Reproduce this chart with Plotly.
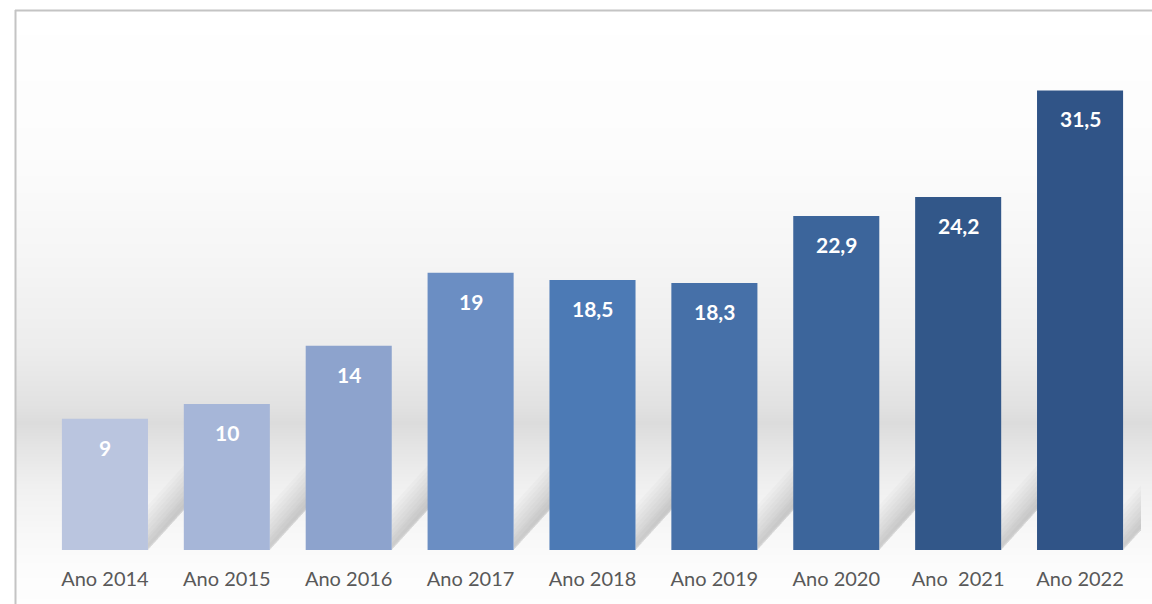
import base64, struct, zlib
import plotly.graph_objects as go

categories = ["Ano 2014", "Ano 2015", "Ano 2016", "Ano 2017", "Ano 2018",
              "Ano 2019", "Ano 2020", "Ano \u00a02021", "Ano 2022"]
values = [9, 10, 14, 19, 18.5, 18.3, 22.9, 24.2, 31.5]
value_labels = ["9", "10", "14", "19", "18,5", "18,3", "22,9", "24,2", "31,5"]
bar_colors = ["#bac5df", "#a6b6d8", "#8da3cd", "#6b8ec3", "#4c7ab5",
              "#4670a8", "#3c659b", "#325789", "#305487"]

W, H = 1152, 604
L, R, T, B = 44, 11, 54, 54
pw, ph = W - L - R, H - T - B
BARGAP = 0.294

# vertical background gradient as a tiny PNG (decoration only); y in page pixels
stops = [(11, 255), (150, 252), (250, 246), (350, 236), (400, 226), (418, 220),
         (440, 228), (480, 240), (530, 248), (560, 252), (604, 254)]
rows = []
for y in range(11, 604):
    for (y0, g0), (y1, g1) in zip(stops[:-1], stops[1:]):
        if y0 <= y <= y1:
            g = int(round(g0 + (g1 - g0) * (y - y0) / (y1 - y0)))
            break
    rows.append(g)

def png_gray(col):
    raw = b"".join(b"\x00" + bytes([v]) for v in col)
    def chunk(t, d):
        c = struct.pack(">I", len(d)) + t + d
        return c + struct.pack(">I", zlib.crc32(t + d) & 0xffffffff)
    ihdr = struct.pack(">IIBBBBB", 1, len(col), 8, 0, 0, 0, 0)
    return (b"\x89PNG\r\n\x1a\n" + chunk(b"IHDR", ihdr) +
            chunk(b"IDAT", zlib.compress(raw)) + chunk(b"IEND", b""))

img_src = "data:image/png;base64," + base64.b64encode(png_gray(rows)).decode()

# page pixel -> paper coordinates
def px(x):
    return (x - L) / pw

def py(y):
    return 1 - (y - T) / ph

fig = go.Figure()
fig.add_trace(go.Bar(
    x=categories, y=values,
    marker=dict(color=bar_colors, line=dict(width=0)),
    hoverinfo="skip",
))

annotations = [
    dict(x=c, y=v, xref="x", yref="y", text=t, showarrow=False,
         yanchor="top", yshift=-14,
         font=dict(family="Lato", size=21, color="white", weight="bold"))
    for c, v, t in zip(categories, values, value_labels)
]

# soft diagonal floor shadows to the right of each bar (decoration)
cat_px = pw / len(categories)
base_y = py(550)
RUN, RISE = 38, 42
def shadow_path(i, thick, lift):
    xr = i + (1 - BARGAP) / 2
    x2 = xr + RUN / cat_px
    u = lambda h: base_y + h / ph
    return (f"M {xr},{u(lift)} L {x2},{u(RISE + lift)} "
            f"L {x2},{u(RISE + lift + thick)} L {xr},{u(lift + thick)} Z")

shapes = []
for i in range(len(categories)):
    for k in range(1, 10):
        shapes.append(dict(type="path", xref="x", yref="paper", layer="below",
                           path=shadow_path(i, 5 * k, 2 if k < 3 else 0),
                           fillcolor="rgba(0,0,0,0.02)", line=dict(width=0)))

shapes += [
    dict(type="line", xref="paper", yref="paper", x0=px(15), x1=px(1160),
         y0=py(10.5), y1=py(10.5), line=dict(color="#c4c4c4", width=2)),
    dict(type="line", xref="paper", yref="paper", x0=px(15.5), x1=px(15.5),
         y0=py(10), y1=py(610), line=dict(color="#c4c4c4", width=2)),
]

fig.update_layout(
    width=W, height=H,
    margin=dict(l=L, r=R, t=T, b=B),
    paper_bgcolor="white",
    plot_bgcolor="rgba(0,0,0,0)",
    bargap=BARGAP,
    showlegend=False,
    annotations=annotations,
    images=[dict(source=img_src, xref="paper", yref="paper",
                 x=px(16), y=py(11), sizex=px(1160) - px(16), sizey=py(11) - py(610),
                 xanchor="left", yanchor="top", sizing="stretch", layer="below")],
    shapes=shapes,
    xaxis=dict(showgrid=False, zeroline=False, showline=False, ticks="",
               range=[-0.5, len(categories) - 0.5],
               ticklabelstandoff=15,
               tickfont=dict(family="Lato", size=20, color="#595959")),
    yaxis=dict(range=[0, 34], visible=False, showgrid=False, zeroline=False),
)

fig.write_html(
    "out.html",
    config={"displayModeBar": False},
    post_script="document.body.style.margin='0';"
                "document.documentElement.style.overflow='hidden';"
                "document.body.style.overflow='hidden';",
)
